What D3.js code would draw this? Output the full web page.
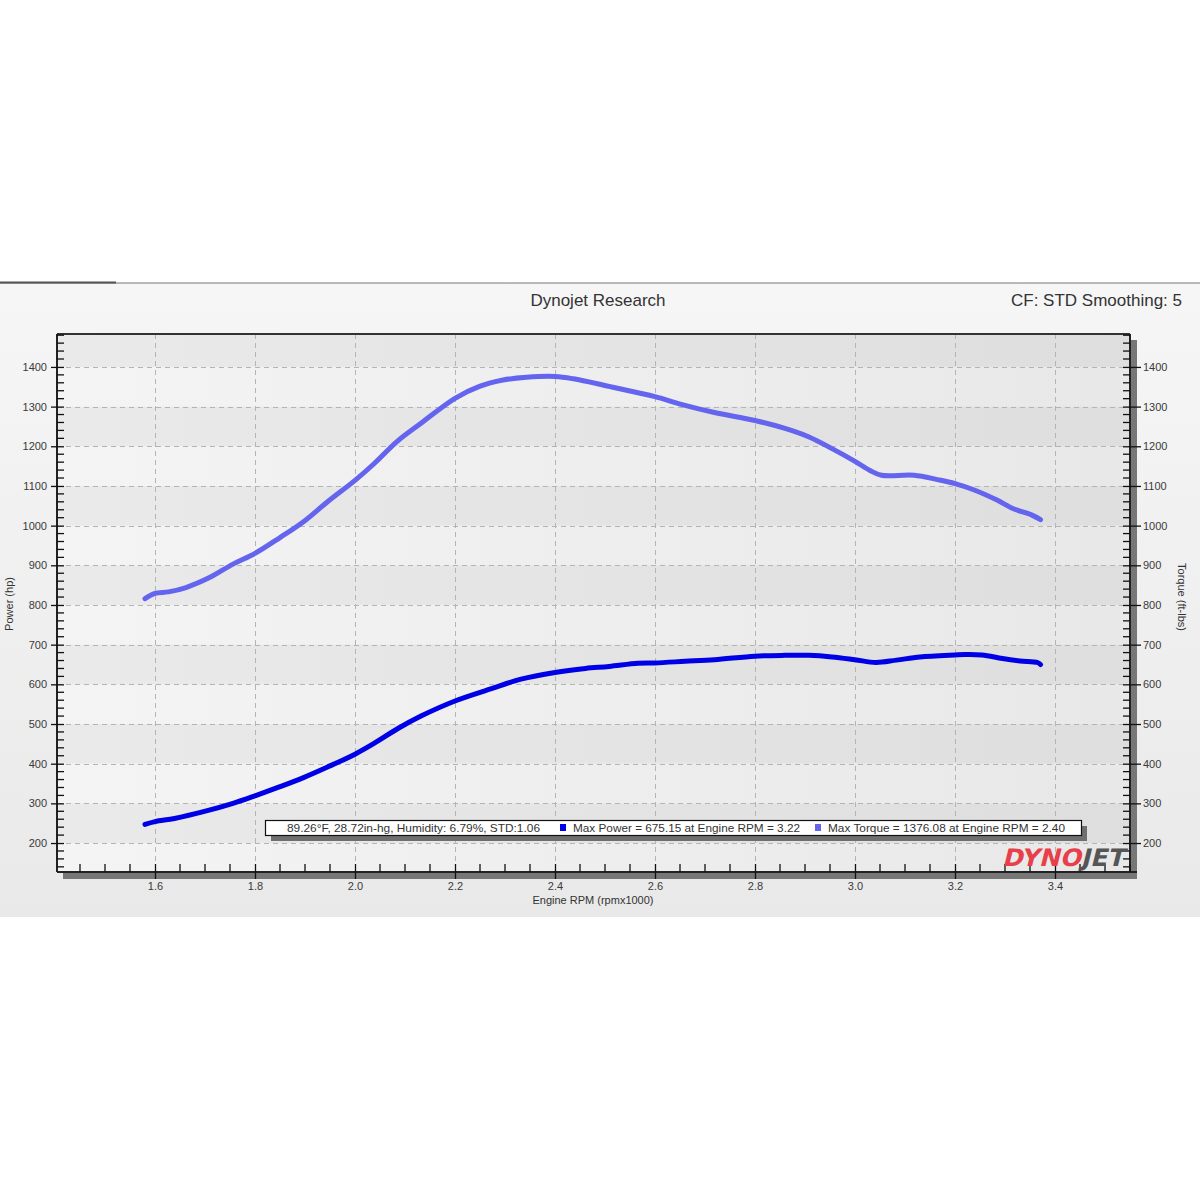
<!DOCTYPE html>
<html><head><meta charset="utf-8">
<script src="https://cdn.jsdelivr.net/npm/d3@7"></script>
<style>
html,body{margin:0;padding:0;background:#fff;}
svg{display:block;font-family:"Liberation Sans",Arial,sans-serif;}
</style></head>
<body>
<script>
// ---- data ----
const rpm = [1.58,1.60,1.627,1.662,1.709,1.756,1.80,1.85,1.897,1.944,2.0,2.038,2.085,2.132,2.20,2.249,2.296,2.343,2.40,2.437,2.508,2.566,2.60,2.66,2.719,2.80,2.86,2.907,2.954,3.0,3.03,3.053,3.118,3.165,3.20,3.236,3.283,3.318,3.353,3.371];
const torque = [816,829,833,844,869,903,930,970,1010,1059,1114,1156,1213,1258,1321,1351,1367,1374,1376,1370,1351,1335,1325,1303,1285,1265,1245,1224,1194,1162,1139,1127,1127,1116,1106,1091,1065,1042,1027,1015];
const powerRpm = [1.58,1.60,1.639,1.697,1.756,1.80,1.85,1.897,1.944,2.0,2.038,2.085,2.132,2.20,2.273,2.332,2.40,2.461,2.508,2.566,2.60,2.66,2.719,2.80,2.86,2.907,2.954,3.0,3.042,3.083,3.13,3.20,3.22,3.254,3.295,3.33,3.365,3.371];
const power = [247,254,262,279,300,319,342,365,391,424,451,488,520,558,589,613,630,640,645,653,654,658,662,671,673,673,669,662,655,661,669,674,675,674,665,659,655,650];
const xTicks = [1.6,1.8,2.0,2.2,2.4,2.6,2.8,3.0,3.2,3.4];
const yTicks = [200,300,400,500,600,700,800,900,1000,1100,1200,1300,1400];
const title = "Dynojet Research";
const cfText = "CF: STD Smoothing: 5";
const legendInfo = "89.26°F, 28.72in-hg, Humidity: 6.79%, STD:1.06";
const legendPower = "Max Power = 675.15 at Engine RPM = 3.22";
const legendTorque = "Max Torque = 1376.08 at Engine RPM = 2.40";

const W=1200,H=1200;
const L=57,R=1130,T=334,B=872;
const x=d3.scaleLinear().domain([1.404,3.55]).range([L,R]);
const y=d3.scaleLinear().domain([127,1483]).range([B,T]);

const svg=d3.select("body").append("svg").attr("width",W).attr("height",H);
const defs=svg.append("defs");
const pg=defs.append("linearGradient").attr("id","panelG").attr("x1",0).attr("y1",0).attr("x2",0).attr("y2",1);
pg.append("stop").attr("offset","0").attr("stop-color","#f6f6f6");
pg.append("stop").attr("offset","1").attr("stop-color","#e9e9e9");
const pl=defs.append("linearGradient").attr("id","plotG").attr("x1",0).attr("y1",0).attr("x2",1).attr("y2",0);
pl.append("stop").attr("offset","0").attr("stop-color","#f4f4f4");
pl.append("stop").attr("offset","0.5").attr("stop-color","#eeeeee");
pl.append("stop").attr("offset","1").attr("stop-color","#e8e8e8");

svg.append("rect").attr("width",W).attr("height",H).attr("fill","#fff");
// panel
svg.append("rect").attr("x",0).attr("y",283).attr("width",W).attr("height",634).attr("fill","url(#panelG)");
svg.append("line").attr("x1",0).attr("x2",W).attr("y1",283).attr("y2",283).attr("stroke","#777").attr("stroke-width",1.2);
svg.append("line").attr("x1",0).attr("x2",116).attr("y1",282.5).attr("y2",282.5).attr("stroke","#555").attr("stroke-width",2);

// header texts
svg.append("text").attr("x",598).attr("y",306).attr("text-anchor","middle").attr("font-size",17).attr("fill","#333").text(title);
svg.append("text").attr("x",1182).attr("y",306).attr("text-anchor","end").attr("font-size",17).attr("fill","#333").text(cfText);

// shadows
svg.append("rect").attr("x",R+1).attr("y",T+6).attr("width",6).attr("height",B-T).attr("fill","#777");
svg.append("rect").attr("x",L+6).attr("y",B+1).attr("width",R-L+1).attr("height",6).attr("fill","#777");

// plot background
svg.append("rect").attr("x",L).attr("y",T).attr("width",R-L).attr("height",B-T).attr("fill","url(#plotG)");
const bands=[[1400,1483],[1200,1300],[1000,1100],[800,900],[600,700],[400,500],[200,300]];
svg.append("g").selectAll("rect").data(bands).join("rect")
  .attr("x",L).attr("width",R-L)
  .attr("y",d=>y(d[1])).attr("height",d=>y(d[0])-y(d[1]))
  .attr("fill","#000").attr("fill-opacity",0.04);

// grid
const grid=svg.append("g").attr("stroke","#b4b4b4").attr("stroke-width",1).attr("stroke-dasharray","5,4");
grid.selectAll("line.h").data(yTicks).join("line").attr("class","h")
  .attr("x1",L).attr("x2",R).attr("y1",d=>Math.round(y(d))+0.5).attr("y2",d=>Math.round(y(d))+0.5);
grid.selectAll("line.v").data(xTicks).join("line").attr("class","v")
  .attr("y1",T).attr("y2",B).attr("x1",d=>Math.round(x(d))+0.5).attr("x2",d=>Math.round(x(d))+0.5);

// lines
const line=d3.line().x(d=>x(d[0])).y(d=>y(d[1])).curve(d3.curveCatmullRom.alpha(0.5));
svg.append("path").datum(rpm.map((r,i)=>[r,torque[i]])).attr("d",line)
  .attr("fill","none").attr("stroke","#6464ee").attr("stroke-width",5).attr("stroke-linecap","round").attr("stroke-linejoin","round");
svg.append("path").datum(powerRpm.map((r,i)=>[r,power[i]])).attr("d",line)
  .attr("fill","none").attr("stroke","#0000e6").attr("stroke-width",5).attr("stroke-linecap","round").attr("stroke-linejoin","round");

// frame
svg.append("line").attr("x1",L).attr("x2",R).attr("y1",T).attr("y2",T).attr("stroke","#333").attr("stroke-width",2);
svg.append("line").attr("x1",L).attr("x2",L).attr("y1",T).attr("y2",B).attr("stroke","#222").attr("stroke-width",2);
svg.append("line").attr("x1",R).attr("x2",R).attr("y1",T).attr("y2",B).attr("stroke","#222").attr("stroke-width",2);
svg.append("line").attr("x1",L).attr("x2",R+7).attr("y1",B).attr("y2",B).attr("stroke","#222").attr("stroke-width",2);

// minor ticks
const yMinor=d3.range(140,1481,20).filter(v=>v%100!==0);
const xMinor=d3.range(1.45,3.551,0.05).filter(v=>Math.abs(v*5-Math.round(v*5))>0.01);
const mt=svg.append("g").attr("stroke","#111").attr("stroke-width",1.3);
mt.selectAll("line.l").data(yMinor).join("line").attr("x1",L).attr("x2",L+7).attr("y1",d=>y(d)).attr("y2",d=>y(d));
mt.selectAll("line.r").data(yMinor).join("line").attr("x1",R-7).attr("x2",R).attr("y1",d=>y(d)).attr("y2",d=>y(d));
mt.selectAll("line.b").data(xMinor).join("line").attr("x1",d=>x(d)).attr("x2",d=>x(d)).attr("y1",B-8).attr("y2",B);

// major axes via d3
const axL=svg.append("g").attr("transform",`translate(${L},0)`)
  .call(d3.axisLeft(y).tickValues(yTicks).tickFormat(d3.format("d")).tickSize(6).tickSizeOuter(0).tickPadding(4));
const axR=svg.append("g").attr("transform",`translate(${R},0)`)
  .call(d3.axisRight(y).tickValues(yTicks).tickFormat(d3.format("d")).tickSize(11).tickSizeOuter(0).tickPadding(2));
const axB=svg.append("g").attr("transform",`translate(0,${B})`)
  .call(d3.axisBottom(x).tickValues(xTicks).tickFormat(d3.format(".1f")).tickSize(7).tickSizeOuter(0).tickPadding(3));
[axL,axR,axB].forEach(a=>{
  a.select(".domain").remove();
  a.selectAll(".tick line").attr("stroke","#111").attr("stroke-width",1.3);
  a.selectAll(".tick text").attr("font-family","Liberation Sans, Arial, sans-serif").attr("font-size",11).attr("fill","#3a3a3a");
});
axL.selectAll(".tick line").attr("x1",7);
axR.selectAll(".tick line").attr("x1",-7);
axB.selectAll(".tick line").attr("y1",-8);

// axis titles
svg.append("text").attr("transform","translate(13,604) rotate(-90)").attr("text-anchor","middle").attr("font-size",11).attr("fill","#333").text("Power (hp)");
svg.append("text").attr("transform","translate(1178,597) rotate(90)").attr("text-anchor","middle").attr("font-size",11).attr("fill","#333").text("Torque (ft-lbs)");
svg.append("text").attr("x",593).attr("y",904).attr("text-anchor","middle").attr("font-size",11).attr("fill","#333").text("Engine RPM (rpmx1000)");

// legend box
const lg=svg.append("g");
lg.append("rect").attr("x",271).attr("y",826).attr("width",816).attr("height",15).attr("fill","#6f6f6f");
lg.append("rect").attr("x",265.5).attr("y",820.5).attr("width",816).attr("height",15).attr("fill","#fff").attr("stroke","#111").attr("stroke-width",1.2);
lg.append("text").attr("x",287).attr("y",832).attr("font-size",11).attr("fill","#333").attr("textLength",253).attr("lengthAdjust","spacingAndGlyphs").text(legendInfo);
lg.append("rect").attr("x",560).attr("y",824).attr("width",6).attr("height",7).attr("fill","#0000e6");
lg.append("text").attr("x",573).attr("y",832).attr("font-size",11).attr("fill","#333").attr("textLength",227).attr("lengthAdjust","spacingAndGlyphs").text(legendPower);
lg.append("rect").attr("x",815).attr("y",824).attr("width",6).attr("height",7).attr("fill","#6464ee");
lg.append("text").attr("x",828).attr("y",832).attr("font-size",11).attr("fill","#333").attr("textLength",237).attr("lengthAdjust","spacingAndGlyphs").text(legendTorque);

// logo
const logo=svg.append("text").attr("transform","translate(1002,866) skewX(-14)").attr("font-size",24).attr("font-weight",900)
  .attr("font-family","DejaVu Sans, sans-serif")
  .attr("textLength",122).attr("lengthAdjust","spacingAndGlyphs");
logo.append("tspan").attr("fill","#e8404a").text("DYNO");
logo.append("tspan").attr("fill","#555").text("JET");
</script>
</body></html>
